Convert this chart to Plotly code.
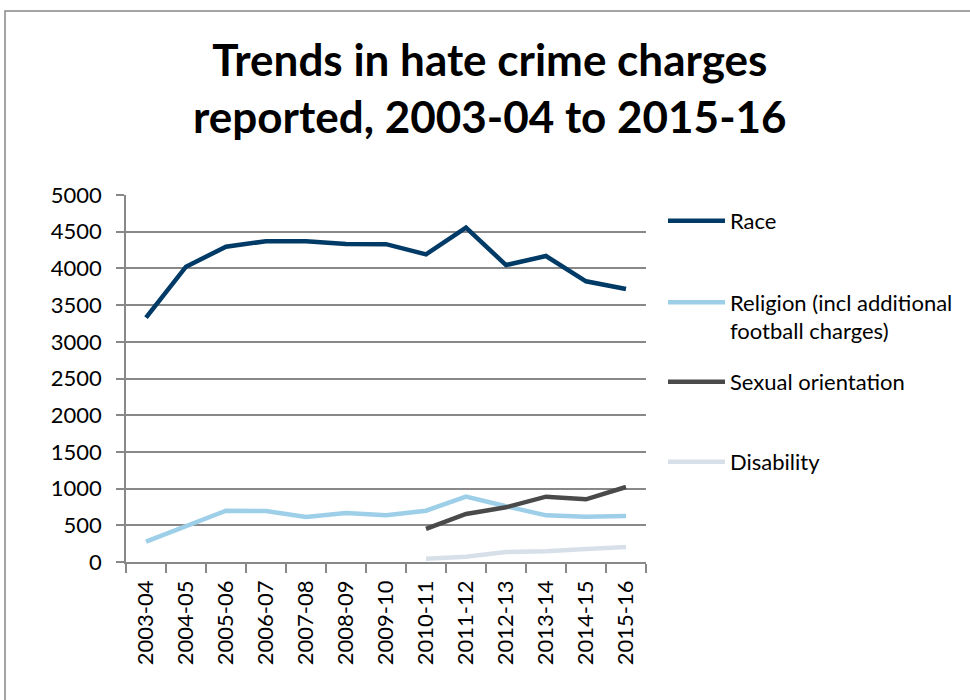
import plotly.graph_objects as go

years = ["2003-04", "2004-05", "2005-06", "2006-07", "2007-08", "2008-09", "2009-10",
         "2010-11", "2011-12", "2012-13", "2013-14", "2014-15", "2015-16"]
race = [3328, 4023, 4296, 4370, 4370, 4332, 4330, 4192, 4555, 4046, 4169, 3824, 3719]
religion = [277, 486, 699, 695, 613, 668, 636, 699, 890, 759, 636, 617, 627]
sexual_orientation = [None, None, None, None, None, None, None, 450, 654, 745, 890, 854, 1022]
disability = [None, None, None, None, None, None, None, 45, 72, 136, 146, 177, 204]

series = [
    ("Race", race, "#003a66"),
    ("Religion (incl additional<br>football charges)", religion, "#9dcfe8"),
    ("Sexual orientation", sexual_orientation, "#4a4a4a"),
    ("Disability", disability, "#d7e0e9"),
]

FONT = "Lato"
W, H = 970, 700
L, R, T, B = 126, 646, 195, 562
pw, ph = R - L, B - T
def px(x): return (x - L) / pw
def py(y): return (B - y) / ph

legend_names = ["legend", "legend2", "legend3", "legend4"]
legend_y = [221, 317, 382, 462]

fig = go.Figure()
for i, (name, vals, col) in enumerate(series):
    fig.add_trace(go.Scatter(x=years, y=vals, name=name, mode="lines",
                             line=dict(color=col, width=4.5), connectgaps=False,
                             legend=legend_names[i]))

layout_legends = {}
for i, ln in enumerate(legend_names):
    layout_legends[ln] = dict(x=px(663), y=py(legend_y[i]), xanchor="left", yanchor="middle",
                              font=dict(family=FONT, size=22, color="#000000"),
                              itemwidth=57, valign="top", bgcolor="rgba(0,0,0,0)")

fig.update_layout(
    width=W, height=H,
    margin=dict(l=L, r=W - R, t=T, b=H - B),
    paper_bgcolor="white", plot_bgcolor="white",
    font=dict(family=FONT, size=22, color="#000000"),
    title=dict(text="<b>Trends in hate crime charges<br>reported, 2003-04 to 2015-16</b>",
               x=0.505, xanchor="center", y=1 - 76 / H, yanchor="middle",
               font=dict(family=FONT, size=44, color="#000000")),
    showlegend=True,
    xaxis=dict(type="category", range=[-0.5, len(years) - 0.5], showgrid=False,
               showline=True, linecolor="#888888", linewidth=1.5,
               ticks="outside", tickson="boundaries", ticklen=9, tickcolor="#888888", tickwidth=1.5,
               tickangle=-90, ticklabelstandoff=8, tickfont=dict(family=FONT, size=22)),
    yaxis=dict(range=[0, 5000], dtick=500, showgrid=True, gridcolor="#888888", gridwidth=1.5,
               showline=True, linecolor="#888888", linewidth=1.5,
               ticks="outside", ticklen=8, tickcolor="#888888", tickwidth=1.5,
               ticklabelstandoff=10, tickfont=dict(family=FONT, size=22), zeroline=False),
    shapes=[dict(type="rect", xref="paper", yref="paper",
                 x0=px(5), x1=px(1200), y0=py(900), y1=py(11),
                 line=dict(color="#888888", width=1.5), fillcolor="rgba(0,0,0,0)", layer="below")],
    **layout_legends,
)

fig.write_html("out.html", config={"displayModeBar": False},
               post_script="document.body.style.margin='0';")
